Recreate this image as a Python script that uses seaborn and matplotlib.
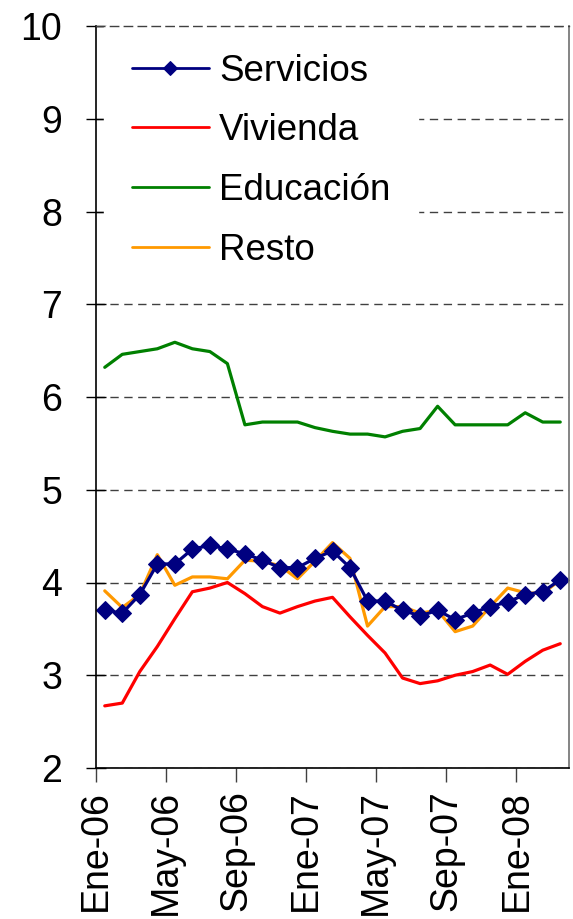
import matplotlib
matplotlib.use("Agg")
import matplotlib.pyplot as plt
import seaborn as sns
import pandas as pd
import numpy as np

months = ["Ene-06", "Feb-06", "Mar-06", "Abr-06", "May-06", "Jun-06", "Jul-06", "Ago-06",
          "Sep-06", "Oct-06", "Nov-06", "Dic-06", "Ene-07", "Feb-07", "Mar-07", "Abr-07",
          "May-07", "Jun-07", "Jul-07", "Ago-07", "Sep-07", "Oct-07", "Nov-07", "Dic-07",
          "Ene-08", "Feb-08", "Mar-08"]
servicios = [3.70, 3.67, 3.87, 4.20, 4.20, 4.36, 4.40, 4.36, 4.31, 4.24, 4.16, 4.16, 4.26, 4.34,
             4.16, 3.80, 3.80, 3.70, 3.64, 3.70, 3.60, 3.67, 3.74, 3.79, 3.87, 3.90, 4.03]
vivienda = [2.67, 2.70, 3.04, 3.31, 3.61, 3.90, 3.94, 4.00, 3.88, 3.74, 3.67, 3.74, 3.80, 3.84,
            3.63, 3.43, 3.24, 2.97, 2.91, 2.94, 3.00, 3.04, 3.11, 3.01, 3.15, 3.27, 3.34]
educacion = [6.32, 6.46, 6.49, 6.52, 6.59, 6.52, 6.49, 6.36, 5.70, 5.73, 5.73, 5.73, 5.67, 5.63,
             5.60, 5.60, 5.57, 5.63, 5.66, 5.90, 5.70, 5.70, 5.70, 5.70, 5.83, 5.73, 5.73]
resto = [3.91, 3.73, 3.87, 4.30, 3.97, 4.06, 4.06, 4.04, 4.24, 4.23, 4.18, 4.04, 4.23, 4.43,
         4.26, 3.53, 3.74, 3.74, 3.67, 3.70, 3.47, 3.53, 3.74, 3.94, 3.89, 3.88, 4.03]
series_names = ["Servicios", "Vivienda", "Educación", "Resto"]
yticks = [2, 3, 4, 5, 6, 7, 8, 9, 10]

sns.set_theme(style="white")
plt.rcParams['font.family'] = ['Liberation Sans', 'DejaVu Sans']
plt.rcParams['text.color'] = 'black'
plt.rcParams['xtick.color'] = 'black'
plt.rcParams['ytick.color'] = 'black'

df = pd.DataFrame({"mes": months, "Servicios": servicios, "Vivienda": vivienda,
                   "Educación": educacion, "Resto": resto})
df["pos"] = np.arange(len(df)) + 0.5

fig = plt.figure(figsize=(5.73, 9.19), dpi=100)
ax = fig.add_axes([96/573, 1-768/919, (569-96)/573, (768-26)/919])

lw = 2.3
sns.lineplot(data=df, x="pos", y="Vivienda", color="#FF0000", lw=lw, ax=ax, label="Vivienda")
sns.lineplot(data=df, x="pos", y="Educación", color="#008000", lw=lw, ax=ax, label="Educación")
sns.lineplot(data=df, x="pos", y="Resto", color="#FF9900", lw=lw, ax=ax, label="Resto")
sns.lineplot(data=df, x="pos", y="Servicios", color="#000080", lw=lw, ax=ax, label="Servicios",
             marker="D", markersize=9, markeredgecolor="#000080", markerfacecolor="#000080")

ax.set_xlim(0, len(months))
ax.set_ylim(2, 10)
ax.set_yticks(yticks)
ax.set_yticklabels([str(v) for v in yticks])
tick_idx = list(range(0, len(months), 4))
ax.set_xticks(tick_idx)
ax.set_xticklabels([months[i] for i in tick_idx], rotation=90, va="top", ha="center")
ax.set_xlabel("")
ax.set_ylabel("")

ax.yaxis.grid(True, color="#404040", linestyle=(0, (6, 4)), linewidth=1.0)
ax.xaxis.grid(False)

for s in ["left", "bottom"]:
    ax.spines[s].set_color("black")
    ax.spines[s].set_linewidth(1.2)
ax.spines["right"].set_color("#707070")
ax.spines["right"].set_linewidth(1.2)
ax.spines["top"].set_color("#404040")
ax.spines["top"].set_linewidth(1.0)
ax.spines["top"].set_linestyle((0, (6, 4)))
ax.spines["top"].set_zorder(10)

ax.tick_params(axis="y", direction="inout", length=15, width=1.0, color="black",
               labelsize=27, pad=17, left=True, labelcolor="black")
ax.tick_params(axis="x", direction="out", length=10, width=1.0, color="#404040",
               labelsize=27, pad=6, bottom=True, labelcolor="black")

handles, labels = ax.get_legend_handles_labels()
order = [labels.index(n) for n in series_names]
leg = ax.legend([handles[i] for i in order], [labels[i] for i in order],
                loc="upper left", bbox_to_anchor=(0.017, 1.0), fontsize=26.5,
                frameon=True, facecolor="white", edgecolor="white", framealpha=1,
                fancybox=False, borderpad=0.75, handlelength=2.1, handletextpad=0.28,
                labelspacing=0.67, borderaxespad=0.0)
for t in leg.get_texts():
    t.set_color("black")
for h in leg.legend_handles:
    h.set_linewidth(2.0)
leg.legend_handles[0].set_markersize(7)

fig.savefig("out.png", dpi=100)
